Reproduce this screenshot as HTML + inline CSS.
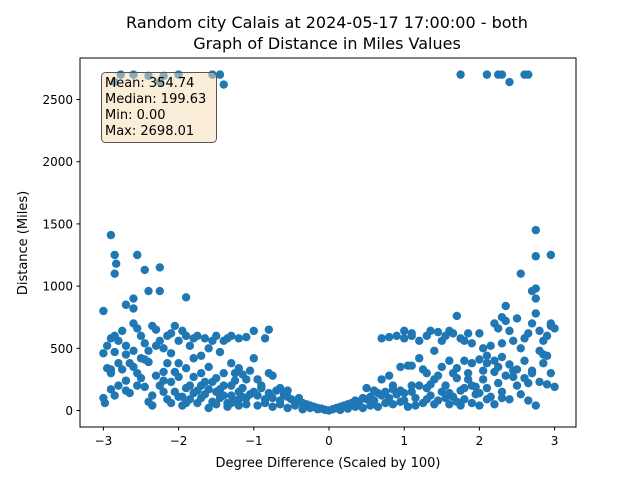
<!DOCTYPE html>
<html><head><meta charset="utf-8"><style>
body{margin:0;background:#fff;width:640px;height:480px;overflow:hidden}
svg{font-family:"DejaVu Sans","Liberation Sans",sans-serif}
</style></head><body>
<svg id="chart" width="640" height="480" viewBox="0 0 640 480">
<text x="327" y="28" font-size="16" text-anchor="middle">Random city Calais at 2024-05-17 17:00:00  - both</text>
<text x="327" y="49" font-size="16" text-anchor="middle">Graph of Distance in Miles Values</text>
<rect x="80" y="58" width="496" height="369" fill="#fff" stroke="none"/>
<g id="points"></g>
<rect x="80" y="58" width="496" height="369" fill="none" stroke="#000" stroke-width="1"/>
<g id="xt"></g>
<g id="yt"></g>
<text x="328" y="467" font-size="13" text-anchor="middle">Degree Difference (Scaled by 100)</text>
<text x="27" y="243" font-size="13" text-anchor="middle" transform="rotate(-90 27 243)">Distance (Miles)</text>
<g>
<rect x="101.5" y="72.5" width="115" height="70" rx="4" fill="#f5deb3" fill-opacity="0.5" stroke="#555" stroke-width="1"/>
<text x="105" y="87" font-size="13">Mean: 354.74</text>
<text x="105" y="103" font-size="13">Median: 199.63</text>
<text x="105" y="119" font-size="13">Min: 0.00</text>
<text x="105" y="135" font-size="13">Max: 2698.01</text>
</g>
</svg>
<script>
const xTicks = [-3,-2,-1,0,1,2,3];
const yTicks = [0,500,1000,1500,2000,2500];
const samples = [
[-2.77,2700],[-2.6,2700],[-2.4,2690],[-2.2,2690],[-2.0,2700],[-1.55,2700],[-1.45,2700],[-1.4,2620],[-2.25,2640],[-2.85,2640],
[1.75,2700],[2.1,2700],[2.25,2700],[2.3,2700],[2.4,2640],[2.6,2700],[2.65,2700],
[-2.9,1410],[-2.85,1250],[-2.83,1180],[-2.85,1100],[-2.55,1250],[-2.45,1130],[-2.25,1150],[-2.4,960],[-2.25,960],[-1.9,910],[-3.0,800],[-2.7,850],[-2.6,900],[-2.6,820],
[2.75,1450],[2.95,1250],[2.75,1240],[2.55,1100],[2.75,980],[2.7,960],[2.35,840],[2.75,900],[2.95,700],[2.3,750],
[-1.0,150],[-0.95,120],[-0.9,180],[-0.85,90],[-0.8,140],[-0.75,100],[-0.7,160],[-0.65,80],[-0.6,130],[-0.55,110],[-0.5,90],[-0.45,70],[-0.4,100],[-0.35,60],[-0.3,50],[-0.25,40],[-0.2,30],[-0.15,20],[-0.1,15],[-0.05,5],[0,0],[0.05,10],[0.1,20],[0.15,30],[0.2,40],[0.25,50],[0.3,60],[0.35,80],[0.4,70],[0.45,100],[0.5,90],[0.55,110],[0.6,80],[0.65,140],[0.7,120],[0.75,150],[0.8,100],[0.85,170],[0.9,130],[0.95,160],[1.0,140],
[-0.95,40],[-0.85,60],[-0.75,30],[-0.65,50],[-0.55,20],[-0.45,40],[-0.35,10],[-0.25,20],[-0.15,10],[0.15,5],[0.25,15],[0.35,30],[0.45,20],[0.55,40],[0.65,30],[0.75,60],[0.85,50],[0.95,70],
[-1.0,420],[-0.95,250],[-0.8,300],[-0.75,280],[-0.9,200],[-1.2,580],[-1.3,600],[-1.1,590],[-0.85,580],[-1.0,640],[-0.8,650],[-0.65,180],[-0.55,160],[0.7,580],[0.8,590],[0.9,600],[1.0,640],[1.1,620],[0.95,350],[1.05,360],[0.8,280],[0.7,250],[1.1,200],[0.85,200],[0.6,160],[0.5,180],
[-3.0,460],[-2.95,340],[-2.9,300],[-2.95,520],[-2.9,580],[-2.85,600],[-2.8,560],[-2.75,640],[-2.7,520],[-2.7,450],[-2.65,380],[-2.6,700],[-2.55,660],[-2.5,600],[-2.45,540],[-2.4,480],[-2.35,680],[-2.3,650],[-2.25,560],[-2.2,500],[-2.15,600],[-2.1,620],[-2.05,680],[-2.0,560],[-1.95,640],[-1.9,600],[-1.85,520],[-1.8,580],[-1.75,600],[-1.7,440],[-1.65,580],[-1.6,500],[-1.55,560],[-1.5,600],[-1.45,470],[-1.4,560],[-1.35,580],[-1.3,380],[-1.25,300],[-1.2,340],[-1.15,290],[-1.1,250],[-1.05,320],
[-3.0,100],[-2.98,60],[-2.9,170],[-2.85,120],[-2.8,200],[-2.8,380],[-2.75,330],[-2.7,160],[-2.65,140],[-2.6,350],[-2.55,300],[-2.5,260],[-2.45,190],[-2.4,70],[-2.35,40],[-2.3,280],[-2.25,200],[-2.2,310],[-2.15,380],[-2.1,230],[-2.05,150],[-2.0,270],[-1.95,40],[-1.9,180],[-1.85,90],[-1.8,270],[-1.75,60],[-1.7,200],[-1.65,130],[-1.6,20],[-1.55,230],[-1.5,150],[-1.45,100],[-1.4,200],[-1.35,60],[-1.3,120],[-1.25,240],[-1.2,90],[-1.15,180],[-1.1,50],[-1.05,130],
[-2.9,330],[-2.7,240],[-2.5,420],[-2.3,520],[-2.1,460],[-1.9,340],[-1.7,300],[-1.5,260],[-1.3,200],[-2.6,480],[-2.4,390],[-2.2,240],[-2.0,380],[-1.8,420],[-1.6,350],[-1.4,300],[-1.2,150],[-2.85,470],[-2.55,200],[-2.35,120],[-2.15,90],[-1.95,110],[-1.75,160],[-1.55,70],[-1.35,30],[-2.45,410],[-2.05,310],[-1.65,230],[-1.25,80],
[-2.0,110],[-1.9,60],[-1.8,140],[-1.7,100],[-1.6,170],[-1.5,50],[-1.4,120],[-1.3,60],[-1.2,40],[-1.1,100],[-2.2,150],[-2.1,60],[-1.85,200],[-1.45,170],[-1.15,110],
[1.0,580],[1.1,600],[1.2,560],[1.3,600],[1.35,640],[1.45,630],[1.5,560],[1.55,600],[1.6,640],[1.65,620],[1.7,760],[1.75,580],[1.8,560],[1.85,620],[1.9,540],[2.0,620],[2.05,500],[2.1,440],[2.15,520],[2.2,700],[2.25,660],[2.3,540],[2.35,720],[2.4,640],[2.45,560],[2.5,740],[2.55,500],[2.6,580],[2.65,620],[2.7,700],[2.75,780],[2.8,640],[2.85,560],[2.9,600],[2.95,680],[3.0,660],
[1.0,80],[1.05,30],[1.1,150],[1.15,100],[1.2,200],[1.25,60],[1.3,180],[1.35,120],[1.4,250],[1.45,80],[1.5,150],[1.55,200],[1.6,50],[1.65,110],[1.7,260],[1.75,160],[1.8,90],[1.85,300],[1.9,200],[1.95,130],[2.0,40],[2.05,250],[2.1,180],[2.15,110],[2.2,310],[2.25,220],[2.3,150],[2.35,280],[2.4,90],[2.45,320],[2.5,200],[2.55,130],[2.6,260],[2.65,80],[2.7,320],[2.75,40],[2.8,230],[2.85,450],[2.9,210],[2.95,300],[3.0,190],
[1.1,360],[1.2,420],[1.3,300],[1.4,480],[1.5,350],[1.6,400],[1.7,340],[1.8,400],[1.9,380],[2.0,410],[2.1,380],[2.2,400],[2.3,430],[2.4,370],[2.5,330],[2.6,400],[2.7,300],[2.8,480],[2.9,440],[1.25,330],[1.45,280],[1.65,300],[1.85,250],[2.05,320],[2.25,350],[2.45,270],[2.65,220],[2.85,380],
[1.15,40],[1.3,90],[1.4,50],[1.55,100],[1.7,70],[1.8,180],[1.9,60],[2.0,140],[2.1,90],[2.2,50],[1.35,210],[1.6,140],[2.3,100],[1.75,40],[1.95,190]
];
const degreeDiff = samples.map(p => p[0]);
const distance = samples.map(p => p[1]);

const NS = "http://www.w3.org/2000/svg";
function sx(v){ return 329 + v * 75.2; }
function sy(v){ return 410.5 - v * 0.1244; }
function mk(tag, attrs, parent){ const e = document.createElementNS(NS, tag); for (const k in attrs) e.setAttribute(k, attrs[k]); parent.appendChild(e); return e; }

const pg = document.getElementById('points');
for (let i = 0; i < degreeDiff.length; i++) {
  const c = mk('circle', {cx: sx(degreeDiff[i]), cy: sy(distance[i]), r: 4.2, fill: '#1f77b4'}, pg);
  
  
}
const xg = document.getElementById('xt');
xTicks.forEach(t => {
  const x = sx(t);
  const l = mk('line', {x1: x, x2: x, y1: 427, y2: 430.5, stroke: '#000'}, xg);
  
  
  const tx = mk('text', {x: x, y: 445, 'font-size': 12, 'text-anchor': 'middle'}, xg);
  tx.textContent = t < 0 ? '\u2212' + (-t) : String(t);
  
  
});
const yg = document.getElementById('yt');
yTicks.forEach(t => {
  const y = sy(t);
  const l = mk('line', {x1: 76.5, x2: 80, y1: y, y2: y, stroke: '#000'}, yg);
  
  
  const tx = mk('text', {x: 73, y: y + 4.5, 'font-size': 12, 'text-anchor': 'end'}, yg);
  tx.textContent = String(t);
  
  
});
</script>
</body></html>
